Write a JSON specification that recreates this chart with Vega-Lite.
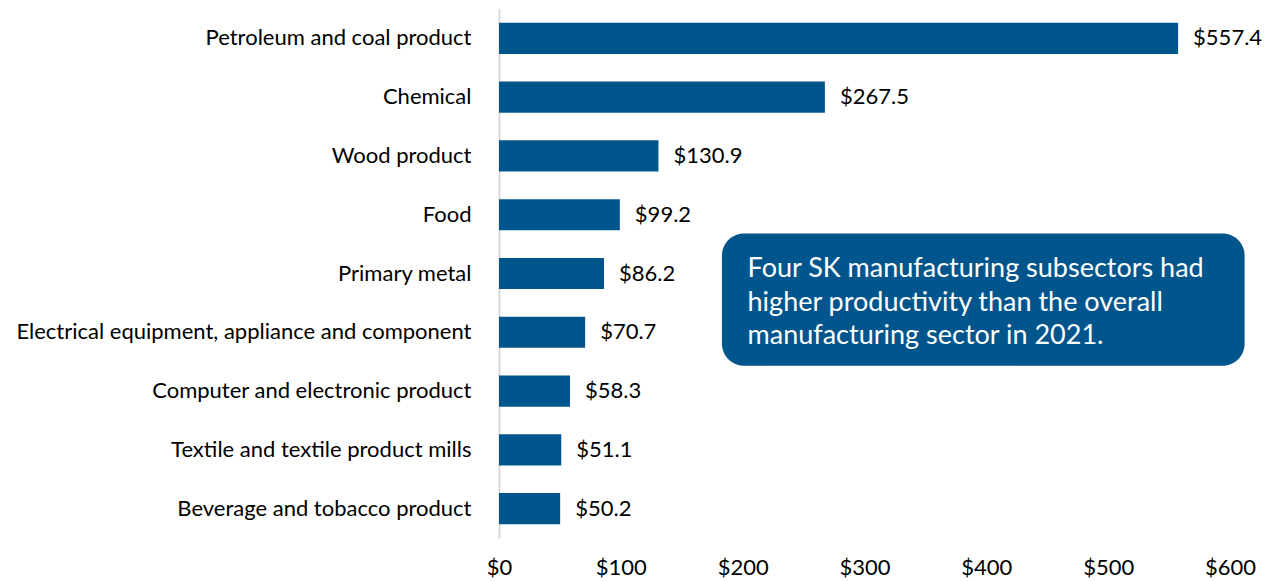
{
  "$schema": "https://vega.github.io/schema/vega-lite/v6.json",
  "autosize": {"type": "none"},
  "width": 731,
  "height": 529,
  "padding": {"left": 499, "top": 9, "right": 43, "bottom": 43},
  "background": "white",
  "config": {"view": {"stroke": null}, "font": "Lato"},
  "datasets": {
    "bars": [
      {"sector": "Petroleum and coal product", "value": 557.4},
      {"sector": "Chemical", "value": 267.5},
      {"sector": "Wood product", "value": 130.9},
      {"sector": "Food", "value": 99.2},
      {"sector": "Primary metal", "value": 86.2},
      {"sector": "Electrical equipment, appliance and component", "value": 70.7},
      {"sector": "Computer and electronic product", "value": 58.3},
      {"sector": "Textile and textile product mills", "value": 51.1},
      {"sector": "Beverage and tobacco product", "value": 50.2}
    ],
    "box": [{"x": 183, "x2": 612, "y": 3.82, "y2": 6.07}],
    "note": [
      {"x": 204, "y": 4.43, "t": "Four SK manufacturing subsectors had"},
      {"x": 204, "y": 5.0, "t": "higher productivity than the overall"},
      {"x": 204, "y": 5.57, "t": "manufacturing sector in 2021."}
    ]
  },
  "layer": [
    {
      "data": {"name": "bars"},
      "layer": [
        {
          "mark": {"type": "bar", "color": "#00568C"},
          "encoding": {
            "y": {
              "field": "sector", "type": "nominal", "sort": null,
              "scale": {"paddingInner": 0.47, "paddingOuter": 0.235},
              "axis": {
                "title": null, "ticks": false, "domainColor": "#d9d9d9", "domainWidth": 2,
                "labelFontSize": 22, "labelColor": "#000000", "labelPadding": 28, "labelLimit": 600,
                "labelFont": "Lato"
              }
            },
            "x": {
              "field": "value", "type": "quantitative",
              "scale": {"domain": [0, 600], "nice": false},
              "axis": {
                "title": null, "values": [0, 100, 200, 300, 400, 500, 600], "format": "$,.0f",
                "grid": false, "ticks": false, "domain": false, "labelFlush": false,
                "labelFontSize": 22, "labelColor": "#000000", "labelPadding": 19, "labelFont": "Lato"
              }
            }
          }
        },
        {
          "mark": {"type": "text", "align": "left", "baseline": "middle", "dx": 15, "fontSize": 22, "color": "#000000", "font": "Lato"},
          "encoding": {
            "y": {"field": "sector", "type": "nominal", "sort": null},
            "x": {"field": "value", "type": "quantitative"},
            "text": {"field": "value", "type": "quantitative", "format": "$.1f"}
          }
        }
      ]
    },
    {
      "layer": [
        {
          "data": {"name": "box"},
          "mark": {"type": "rect", "color": "#00568C", "cornerRadius": 22},
          "encoding": {
            "x": {"field": "x", "type": "quantitative"},
            "x2": {"field": "x2"},
            "y": {"field": "y", "type": "quantitative", "scale": {"domain": [0, 9], "reverse": true, "nice": false}, "axis": null},
            "y2": {"field": "y2"}
          }
        },
        {
          "data": {"name": "note"},
          "mark": {"type": "text", "align": "left", "baseline": "middle", "fontSize": 27, "color": "white", "font": "Lato"},
          "encoding": {
            "x": {"field": "x", "type": "quantitative"},
            "y": {"field": "y", "type": "quantitative", "scale": {"domain": [0, 9], "reverse": true, "nice": false}, "axis": null},
            "text": {"field": "t"}
          }
        }
      ]
    }
  ],
  "resolve": {"scale": {"y": "independent"}}
}
